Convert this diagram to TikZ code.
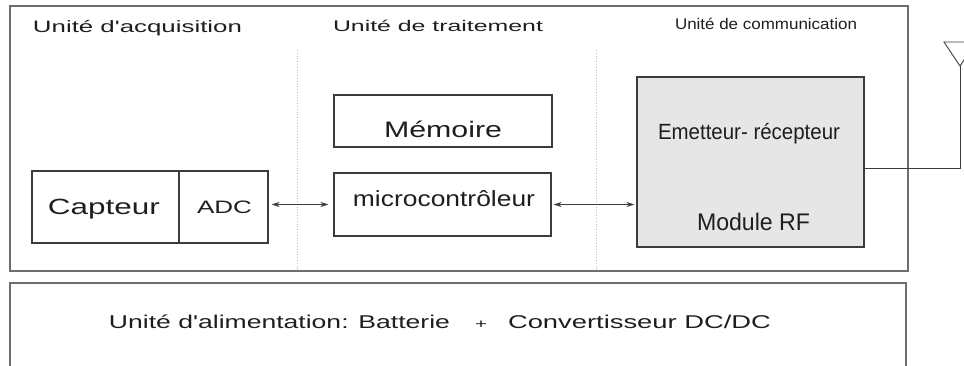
\documentclass[tikz,border=0pt]{standalone}
\usepackage{fontspec}
\usepackage{graphicx}
\setmainfont{Liberation Sans}
\usetikzlibrary{arrows.meta}
\definecolor{outerc}{HTML}{6E6E6E}
\definecolor{boxc}{HTML}{3C3C3C}
\definecolor{txtc}{HTML}{1E1E1E}
\definecolor{dotc}{HTML}{BBBBBB}
\definecolor{rffill}{HTML}{E6E6E6}
\newcommand\wtxt[3]{\fontsize{#1}{#1}\selectfont\resizebox{#2pt}{\height}{#3}}
\begin{document}
\begin{tikzpicture}[x=1pt,y=-1pt,
  outerbox/.style={draw=outerc,line width=1.6pt},
  blockbox/.style={draw=boxc,line width=1.1pt,rectangle,inner sep=0pt},
  lbl/.style={anchor=base,inner sep=0pt,text=txtc},
  sep/.style={draw=dotc,line width=0.8pt,dotted},
  arr/.style={draw=boxc,line width=0.9pt,{Stealth[length=8pt,width=5pt]}-{Stealth[length=8pt,width=5pt]}},
  wire/.style={draw=boxc,line width=0.9pt}]
\useasboundingbox (0,0) rectangle (964,366);
% outer frames
\draw[outerbox] (10,6) rectangle (908,271);
\draw[outerbox] (10,372) -- (10,283) -- (906,283) -- (906,372);
% separators
\draw[sep] (297,50) -- (297,270);
\draw[sep] (596,50) -- (596,270);
% headings
\node[lbl] (tacq) at (137.5,32.5) {\wtxt{16.5}{209}{Unité d\textquotesingle acquisition}};
\node[lbl] (ttrait) at (438,31.5) {\wtxt{15.4}{210}{Unité de traitement}};
\node[lbl] (tcomm) at (766,29.5) {\wtxt{15.4}{182}{Unité de communication}};
% blocks
\node[blockbox,minimum width=147pt,minimum height=72pt] (capteur) at (105.5,207) {};
\node[blockbox,minimum width=89pt,minimum height=72pt] (adc) at (223.5,207) {};
\node[blockbox,minimum width=218pt,minimum height=52pt] (memoire) at (443,121) {};
\node[blockbox,minimum width=217pt,minimum height=63pt] (micro) at (442.5,204.5) {};
\node[blockbox,fill=rffill,minimum width=227pt,minimum height=170pt] (rf) at (750.5,162) {};
% block texts
\node[lbl] (tcapteur) at (104,215) {\wtxt{22}{112}{Capteur}};
\node[lbl] (tadc) at (224.5,213.3) {\wtxt{18}{55}{ADC}};
\node[lbl] (tmem) at (443,137.5) {\wtxt{22.4}{118}{Mémoire}};
\node[lbl] (tmicro) at (444,206.5) {\wtxt{22}{182}{microcontrôleur}};
\node[lbl] (tem) at (749,140) {\wtxt{22}{182}{Emetteur- récepteur}};
\node[lbl] (tmod) at (753.5,230.7) {\wtxt{24}{113}{Module RF}};
% connectors
\draw[arr,shorten <=3pt,shorten >=5pt] (micro.west -| adc.east) -- (micro.west);
\draw[arr,shorten <=2pt,shorten >=2pt] (micro.east) -- (micro.east -| rf.west);
% antenna
\coordinate (feed) at (rf.east |- 0,168);
\coordinate (ant) at (960,66);
\coordinate (antl) at (944,42);
\coordinate (antr) at (976,42);
\draw[wire] (feed) -| (ant);
\draw[wire,line join=miter] (antl) -- (ant) -- (antr) -- cycle;
% power unit
\node[lbl] (talim) at (279.5,328.3) {\wtxt{18.5}{341}{Unité d\textquotesingle alimentation: Batterie}};
\node[lbl] (plus) at (481,328) {\wtxt{13}{12}{+}};
\node[lbl] (tconv) at (639.5,328.3) {\wtxt{18.5}{263}{Convertisseur DC/DC}};
\end{tikzpicture}
\end{document}
